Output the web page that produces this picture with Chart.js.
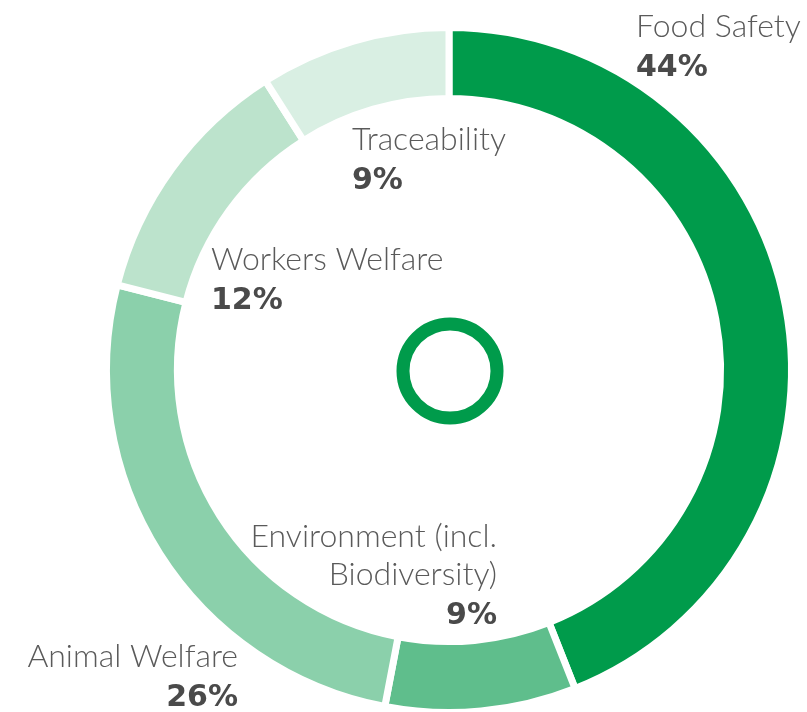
<!DOCTYPE html>
<html>
<head>
<meta charset="utf-8">
<script src="https://cdn.jsdelivr.net/npm/chart.js@4.4.0/dist/chart.umd.min.js"></script>
<style>
  html, body { margin: 0; padding: 0; background: #ffffff; }
  #wrap { width: 807px; height: 712px; position: relative; }
</style>
</head>
<body>
<div id="wrap"><canvas id="donut"></canvas></div>
<script>
// -------------------------------
//  DATA
// -------------------------------
const categories = ['Food Safety', 'Environment (incl. Biodiversity)', 'Animal Welfare', 'Workers Welfare', 'Traceability'];
const labelLines = [['Food Safety'], ['Environment (incl.', 'Biodiversity)'], ['Animal Welfare'], ['Workers Welfare'], ['Traceability']];
const shares = [44, 9, 26, 12, 9];

// -------------------------------
//  STYLE / LAYOUT
// -------------------------------
const sliceColors = ['#009b4b', '#5fbe8c', '#8bd0ab', '#bce3cc', '#d9efe3'];
const TEXT_COLOR = '#5a5a5a';
const PCT_COLOR = '#4a4a4a';
const NAME_FONT = "300 32px 'Lato', 'Open Sans', sans-serif";
const PCT_FONT = "bold 30px 'DejaVu Sans', sans-serif";

// label anchor relative to donut centre: dx, dy of first baseline, alignment
const labelAnchors = [
    { dx: 187, dy: -333, align: 'left' },
    { dx: 48, dy: 177, align: 'right' },
    { dx: -211, dy: 297, align: 'right' },
    { dx: -238, dy: -100, align: 'left' },
    { dx: -97, dy: -220, align: 'left' }
];
const LINE_H = 38;

// centre ring + labels
const decorPlugin = {
    id: 'decor',
    afterDatasetsDraw(chart) {
        const ctx = chart.ctx;
        const arc = chart.getDatasetMeta(0).data[0];
        const cx = arc.x, cy = arc.y;

        // small ring in the middle
        ctx.save();
        ctx.beginPath();
        ctx.arc(cx + 1, cy + 1, 47, 0, Math.PI * 2);
        ctx.lineWidth = 13;
        ctx.strokeStyle = sliceColors[0];
        ctx.stroke();

        // labels
        ctx.textBaseline = 'alphabetic';
        labelLines.forEach((lines, i) => {
            const a = labelAnchors[i];
            ctx.textAlign = a.align;
            let y = cy + a.dy;
            ctx.font = NAME_FONT;
            ctx.fillStyle = TEXT_COLOR;
            lines.forEach(line => {
                ctx.fillText(line, cx + a.dx, y);
                y += LINE_H;
            });
            ctx.font = PCT_FONT;
            ctx.fillStyle = PCT_COLOR;
            ctx.fillText(shares[i] + '%', cx + a.dx, y + 1);
        });
        ctx.restore();
    }
};

const ctx = document.getElementById('donut').getContext('2d');
new Chart(ctx, {
    type: 'doughnut',
    data: {
        labels: categories,
        datasets: [{
            data: shares,
            backgroundColor: sliceColors,
            borderColor: '#ffffff',
            borderWidth: 7,
            borderAlign: 'center',
            radius: 342.5,
            cutout: '79.3%'
        }]
    },
    options: {
        responsive: true,
        maintainAspectRatio: false,
        animation: false,
        layout: { padding: { left: 91, right: 0, top: 28, bottom: 0 } },
        plugins: {
            legend: { display: false },
            tooltip: { enabled: false }
        }
    },
    plugins: [decorPlugin]
});
</script>
</body>
</html>
